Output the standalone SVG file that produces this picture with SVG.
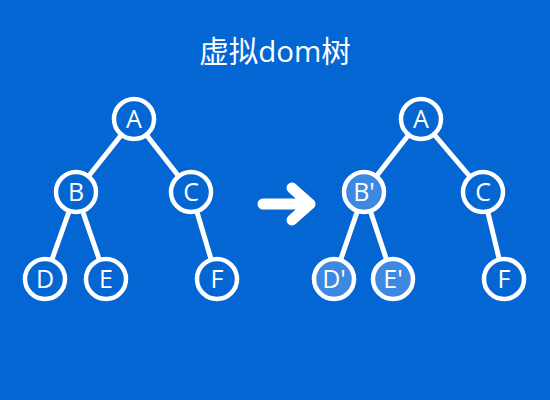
<svg xmlns="http://www.w3.org/2000/svg" width="550" height="400" viewBox="0 0 550 400">
<style>
.n{stroke:#fff;stroke-width:4.5}
.o{fill:#0466d3}
.h{fill:#3d88e0}
.t{fill:#fff;font-family:"Open Sans","Noto Sans",sans-serif;font-size:25px;text-anchor:middle}
.e{stroke:#fff;stroke-width:5;fill:none}
</style>
<rect width="550" height="400" fill="#0466d3"/>
<text x="275" y="62" fill="#fff" font-family="Open Sans, Noto Sans CJK SC, sans-serif" font-size="29.5" text-anchor="middle">虚拟dom树</text>
<g id="connectors">
<line class="e" x1="134" y1="119" x2="76" y2="192"/>
<line class="e" x1="134" y1="119" x2="191" y2="192"/>
<line class="e" x1="76" y1="192" x2="45" y2="279"/>
<line class="e" x1="76" y1="192" x2="106" y2="279"/>
<line class="e" x1="191" y1="192" x2="217" y2="279"/>
<line class="e" x1="421" y1="119" x2="364" y2="192"/>
<line class="e" x1="421" y1="119" x2="483" y2="192"/>
<line class="e" x1="364" y1="192" x2="334" y2="279"/>
<line class="e" x1="364" y1="192" x2="393" y2="279"/>
<line class="e" x1="483" y1="192" x2="504" y2="279"/>
<path id="arrow" d="M263 204 H310 M292 188 L310 204 L292 220" stroke="#fff" stroke-width="11" stroke-linecap="round" stroke-linejoin="round" fill="none"/>
</g>
<g id="L_A"><circle class="n o" cx="134" cy="119" r="20"/><text class="t" x="134" y="128">A</text></g>
<g id="L_B"><circle class="n o" cx="76" cy="192" r="20"/><text class="t" x="76" y="201">B</text></g>
<g id="L_C"><circle class="n o" cx="191" cy="192" r="20"/><text class="t" x="191" y="201">C</text></g>
<g id="L_D"><circle class="n o" cx="45" cy="279" r="20"/><text class="t" x="45" y="288">D</text></g>
<g id="L_E"><circle class="n o" cx="106" cy="279" r="20"/><text class="t" x="106" y="288">E</text></g>
<g id="L_F"><circle class="n o" cx="217" cy="279" r="20"/><text class="t" x="217" y="288">F</text></g>
<g id="R_A"><circle class="n o" cx="421" cy="119" r="20"/><text class="t" x="421" y="128">A</text></g>
<g id="R_B"><circle class="n h" cx="364" cy="192" r="20"/><text class="t" x="364" y="201">B'</text></g>
<g id="R_C"><circle class="n o" cx="483" cy="192" r="20"/><text class="t" x="483" y="201">C</text></g>
<g id="R_D"><circle class="n h" cx="334" cy="279" r="20"/><text class="t" x="334" y="288">D'</text></g>
<g id="R_E"><circle class="n h" cx="393" cy="279" r="20"/><text class="t" x="393" y="288">E'</text></g>
<g id="R_F"><circle class="n o" cx="504" cy="279" r="20"/><text class="t" x="504" y="288">F</text></g>
</svg>
